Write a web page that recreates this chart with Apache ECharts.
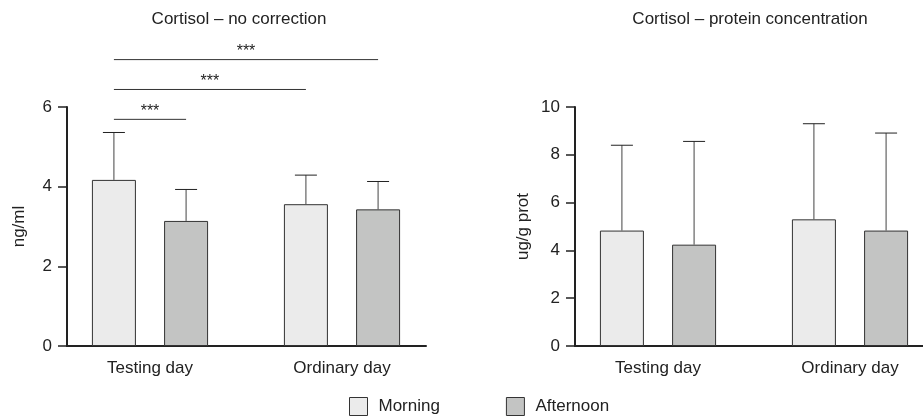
<!DOCTYPE html>
<html>
<head>
<meta charset="utf-8">
<script src="https://cdn.jsdelivr.net/npm/echarts@6/dist/echarts.min.js"></script>
<style>
	html, body { margin: 0; padding: 0; background: #fff; }
	#main { width: 923px; height: 418px; }
</style>
</head>
<body>
<div id="main"></div>
<script>
const categories = ['Testing day', 'Ordinary day'];
const groups = ['Morning', 'Afternoon'];

// Cortisol - no correction (ng/ml): mean and SD
const rawMorning = [4.17, 3.56];
const rawMorningSD = [1.19, 0.73];
const rawAfternoon = [3.14, 3.43];
const rawAfternoonSD = [0.79, 0.70];
const rawTicks = [0, 2, 4, 6];

// Cortisol - protein concentration (ug/g prot): mean and SD
const protMorning = [4.83, 5.30];
const protMorningSD = [3.57, 4.00];
const protAfternoon = [4.24, 4.83];
const protAfternoonSD = [4.32, 4.08];
const protTicks = [0, 2, 4, 6, 8, 10];

// significance brackets on the left panel: [category, bar] -> [category, bar]
const sigFrom = [[0, 0], [0, 0], [0, 0]];
const sigTo = [[0, 1], [1, 0], [1, 1]];
const sigLevel = [5.69, 6.44, 7.19];
const sigLabel = ['***', '***', '***'];

// ---- style / layout ----
const FONT = '"Liberation Sans", Arial, sans-serif';
const FILLS = ['#ebebeb', '#c3c4c3'];
const BAR_W = 44;
const BAR_GAP = 0.64;
const HALF = BAR_W * (1 + BAR_GAP) / 2;
const CAP = 11;
const INK = '#222';

const myChart = echarts.init(document.getElementById('main'), null, { renderer: 'canvas' });

function errorItem(params, api) {
	const cat = api.value(0);
	const base = api.coord([cat, api.value(2)]);
	const top = api.coord([cat, api.value(3)]);
	const x = base[0] + (api.value(1) === 0 ? -HALF : HALF);
	return {
		type: 'group',
		children: [
			{ type: 'line', shape: { x1: x, y1: base[1], x2: x, y2: top[1] }, style: { stroke: '#444', lineWidth: 1 } },
			{ type: 'line', shape: { x1: x - CAP, y1: top[1], x2: x + CAP, y2: top[1] }, style: { stroke: INK, lineWidth: 1 } }
		]
	};
}

function bracketItem(params, api) {
	const a = api.coord([api.value(0), api.value(4)]);
	const b = api.coord([api.value(2), api.value(4)]);
	const x1 = a[0] + (api.value(1) === 0 ? -HALF : HALF);
	const x2 = b[0] + (api.value(3) === 0 ? -HALF : HALF);
	return {
		type: 'group',
		children: [
			{ type: 'line', shape: { x1: x1, y1: a[1], x2: x2, y2: a[1] }, style: { stroke: '#333', lineWidth: 1 } },
			{
				type: 'text',
				x: (x1 + x2) / 2, y: a[1],
				style: { text: sigLabel[params.dataIndex], align: 'center', verticalAlign: 'bottom', fontSize: 16, fontFamily: FONT, fill: INK }
			}
		]
	};
}

function errData(means, sds, barIdx) {
	return means.map((m, i) => [i, barIdx, m, +(m + sds[i]).toFixed(2)]);
}

const panels = [
	{ left: 67, top: 107, ticks: rawTicks, name: 'ng/ml', nameGap: 39, title: 'Cortisol \u2013 no correction', titleX: 239,
	  m: rawMorning, msd: rawMorningSD, a: rawAfternoon, asd: rawAfternoonSD, sig: true },
	{ left: 575, top: 107, ticks: protTicks, name: 'ug/g prot', nameGap: 43, title: 'Cortisol \u2013 protein concentration', titleX: 750,
	  m: protMorning, msd: protMorningSD, a: protAfternoon, asd: protAfternoonSD, sig: false }
];

const option = {
	animation: false,
	textStyle: { fontFamily: FONT },
	title: [],
	legend: {
		data: groups.map((g, i) => ({ name: g, itemStyle: { color: FILLS[i], borderColor: '#333', borderWidth: 1 } })),
		left: 349, top: 397, padding: 0,
		icon: 'rect', itemWidth: 18, itemHeight: 18, itemGap: 66,
		textStyle: { fontSize: 17, color: INK, fontFamily: FONT, padding: [0, 0, 0, 6] }
	},
	grid: [], xAxis: [], yAxis: [], series: []
};

panels.forEach((p, k) => {
	const yMin = p.ticks[0], yMax = p.ticks[p.ticks.length - 1], step = p.ticks[1] - p.ticks[0];
	const frame = k * 2, data = k * 2 + 1;

	option.title.push({
		text: p.title, left: p.titleX, top: 11, textAlign: 'center', padding: 0,
		textStyle: { fontSize: 17, fontWeight: 'normal', color: INK, fontFamily: FONT }
	});

	// frame grid: visible y axis and baseline
	option.grid.push({ left: p.left, top: p.top, width: 359, bottom: 72, outerBoundsMode: 'none' });
	option.xAxis.push({
		gridIndex: frame, type: 'value', min: 0, max: 1,
		axisLine: { show: true, lineStyle: { color: INK, width: 2 } },
		axisTick: { show: false }, axisLabel: { show: false }, splitLine: { show: false }
	});
	option.yAxis.push({
		gridIndex: frame, type: 'value', min: yMin, max: yMax, interval: step,
		name: p.name, nameLocation: 'middle', nameGap: p.nameGap,
		nameTextStyle: { fontSize: 17, color: INK, fontFamily: FONT },
		axisLine: { show: true, lineStyle: { color: INK, width: 2 } },
		axisTick: { show: true, length: 9, lineStyle: { color: INK, width: 1.5 } },
		axisLabel: { fontSize: 17, color: INK, margin: 15, fontFamily: FONT },
		splitLine: { show: false }
	});

	// data grid: bars and categories
	option.grid.push({ left: p.left - 13, top: p.top, width: 384, bottom: 72, outerBoundsMode: 'none' });
	option.xAxis.push({
		gridIndex: data, type: 'category', data: categories,
		axisLine: { show: false }, axisTick: { show: false },
		axisLabel: { fontSize: 17, color: INK, margin: 14, fontFamily: FONT }
	});
	option.yAxis.push({ gridIndex: data, type: 'value', min: yMin, max: yMax, show: false });

	[p.m, p.a].forEach((vals, i) => {
		option.series.push({
			name: groups[i], type: 'bar', xAxisIndex: data, yAxisIndex: data,
			data: vals, barWidth: BAR_W, barGap: (BAR_GAP * 100) + '%',
			itemStyle: { color: FILLS[i], borderColor: '#333', borderWidth: 1 },
			emphasis: { disabled: true }
		});
	});

	option.series.push({
		type: 'custom', xAxisIndex: data, yAxisIndex: data, z: 5,
		renderItem: errorItem,
		encode: { x: 0, y: [2, 3] },
		data: errData(p.m, p.msd, 0).concat(errData(p.a, p.asd, 1))
	});

	if (p.sig) {
		option.series.push({
			type: 'custom', xAxisIndex: data, yAxisIndex: data, z: 5, clip: false,
			renderItem: bracketItem,
			encode: { x: [0, 2], y: 4 },
			data: sigLevel.map((lv, i) => [sigFrom[i][0], sigFrom[i][1], sigTo[i][0], sigTo[i][1], lv])
		});
	}
});

myChart.setOption(option);
</script>
</body>
</html>
